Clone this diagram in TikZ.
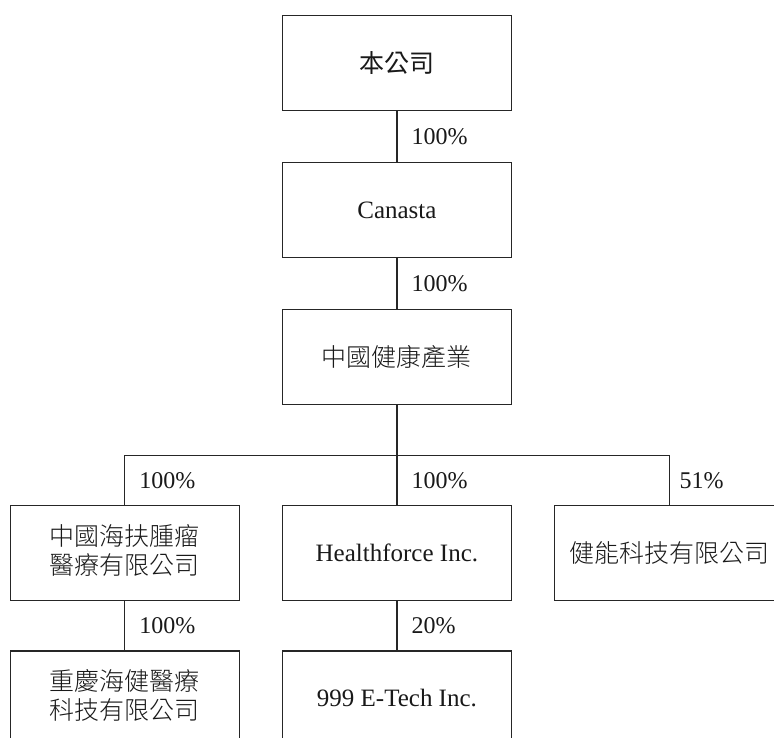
\documentclass[tikz,border=0pt]{standalone}
\usepackage{fontspec}
\setmainfont{Liberation Serif}
\newfontfamily\cjk{Noto Sans CJK TC}
\newfontfamily\cjklight{Noto Sans CJK TC Light}
\usepackage{tikz}
\usetikzlibrary{matrix}
\newcommand{\twolines}[2]{\begin{tabular}{@{}c@{}}#1\\#2\end{tabular}}

\begin{document}
\begin{tikzpicture}[x=1pt,y=1pt,
  box/.style={draw=black!85,line width=1.2pt,minimum width=229pt,minimum height=95pt,
    inner sep=2pt,anchor=center,font=\fontsize{25}{26.5}\selectfont,text=black!90},
  link/.style={draw=black!85,line width=1.2pt,line cap=rect},
  pct/.style={anchor=west,inner sep=0pt,xshift=14pt,font=\fontsize{24}{27}\selectfont,text=black!90}]
\clip (0,0) rectangle (774,-738);
\fill[white] (0,0) rectangle (774,-738);
\matrix (m) [matrix of nodes, nodes={box}, inner sep=0pt,
row sep=51pt, column sep=42pt, anchor=north west] at (9.4,-14.4)
{ & {\cjk 本公司} & \\
  & Canasta & \\
  & {\cjklight 中國健康產業} & \\[49pt]
\twolines{\cjklight 中國海扶腫瘤}{\cjklight 醫療有限公司} & Healthforce Inc. & {\cjklight 健能科技有限公司} \\[-2pt]
\twolines{\cjklight 重慶海健醫療}{\cjklight 科技有限公司} & 999 E-Tech Inc. & \\ };
\path (m-3-2.south) -- (m-4-2.north) coordinate[midway] (bus);
\path[link] (m-1-2) edge node[pct] {100\%} (m-2-2);
\path[link] (m-2-2) edge node[pct] {100\%} (m-3-2);
\draw[link] (m-3-2) -- (bus);
\draw[link] (bus -| m-4-1) -- (bus -| m-4-3);
\path[link] (bus -| m-4-1) edge node[pct] {100\%} (m-4-1);
\path[link] (bus) edge node[pct] {100\%} (m-4-2);
\path[link] (bus -| m-4-3) edge node[pct,xshift=-4pt] {51\%} (m-4-3);
\path[link] (m-4-1) edge node[pct] {100\%} (m-5-1);
\path[link] (m-4-2) edge node[pct] {20\%} (m-5-2);
\end{tikzpicture}
\end{document}
